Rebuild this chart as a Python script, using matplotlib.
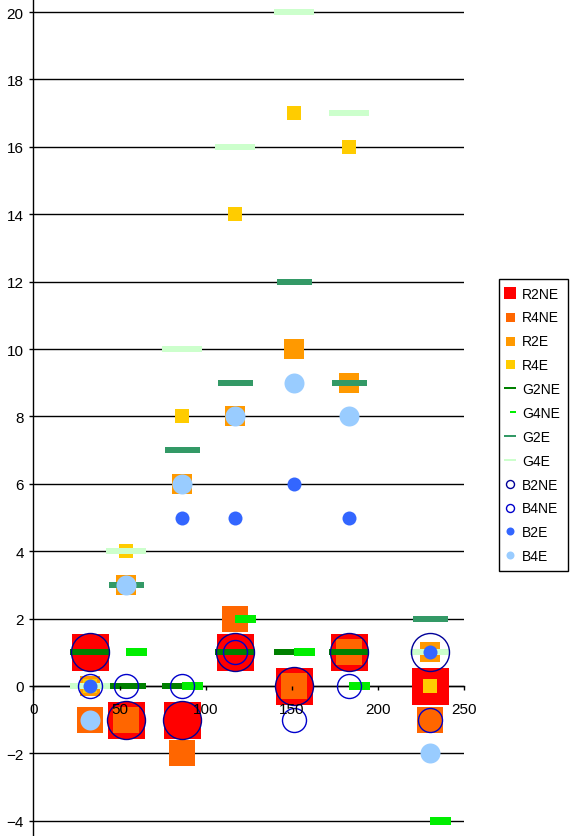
import numpy as np
from matplotlib import pyplot as plt
from matplotlib.path import Path
from matplotlib.lines import Line2D

plt.rcParams['font.family'] = ['Liberation Sans', 'DejaVu Sans']

nan = np.nan
x_vals = [33, 54, 86, 117, 151, 183, 230]

r2ne = [1, -1, -1, 1, 0, 1, 0]
r4ne = [-1, -1, -2, 2, 0, 1, -1]
r2e = [0, 3, 6, 8, 10, 9, 1]
r4e = [0, 4, 8, 14, 17, 16, 0]
g2ne = [1, 0, 0, 1, 1, 1, nan]
g4ne = [nan, 1, 0, 2, 1, 0, -4]
g2e = [0, 3, 7, 9, 12, 9, 2]
g4e = [0, 4, 10, 16, 20, 17, 1]
b2ne = [1, -1, -1, 1, 0, 1, 1]
b4ne = [0, 0, 0, 1, -1, 0, -1]
b2e = [0, 3, 5, 5, 6, 5, 1]
b4e = [-1, 3, 6, 8, 9, 8, -2]

y_ticks = list(range(-4, 21, 2))
x_ticks = [0, 50, 100, 150, 200, 250]


def bar_marker(half_height, right_only=False):
    left = 0 if right_only else -1
    verts = [(left, -half_height), (1, -half_height), (1, half_height), (left, half_height), (left, -half_height)]
    return Path(verts, closed=True)


long_bar = bar_marker(0.175)
teal_bar = bar_marker(0.17)
pale_bar = bar_marker(0.16)
short_bar = bar_marker(0.167, right_only=True)

px = 0.72  # points per pixel at dpi 100

# label, values, marker, size (px), colour, filled, legend size (px)
series = [
    ('R2NE', r2ne, 's', 37, '#FF0000', True, 12),
    ('R4NE', r4ne, 's', 26, '#FF6600', True, 9),
    ('R2E', r2e, 's', 20, '#FF9900', True, 9),
    ('R4E', r4e, 's', 14, '#FFCC00', True, 9),
    ('G2NE', g2ne, long_bar, 40, '#008000', True, 12),
    ('G4NE', g4ne, short_bar, 42, '#00EE00', True, 11),
    ('G2E', g2e, teal_bar, 35, '#339966', True, 12),
    ('G4E', g4e, pale_bar, 40, '#CCFFCC', True, 12),
    ('B2NE', b2ne, 'o', 38, '#000099', False, 8),
    ('B4NE', b4ne, 'o', 24, '#0000CC', False, 8),
    ('B2E', b2e, 'o', 14, '#3366FF', True, 8),
    ('B4E', b4e, 'o', 20, '#99CCFF', True, 8),
]

fig = plt.figure(figsize=(5.7, 8.37), dpi=100)
ax = fig.add_axes([33.4 / 570, 0, 430.8 / 570, 1])
ax.set_xlim(0, 250)
ax.set_ylim(-(837 - 687) / 33.7, 20 + 13 / 33.7)

for y in y_ticks:
    ax.axhline(y, color='black', linewidth=1.0, zorder=0.5)

handles = []
for label, values, marker, size, color, filled, legend_size in series:
    if filled:
        style = dict(markerfacecolor=color, markeredgewidth=0)
    else:
        style = dict(markerfacecolor='none', markeredgecolor=color, markeredgewidth=1.0)
    ax.plot(x_vals, values, linestyle='None', marker=marker, markersize=size * px, zorder=2, **style)
    handles.append(Line2D([], [], linestyle='None', marker=marker, markersize=legend_size * px, label=label, **style))

ax.set_axisbelow(False)
ax.spines['top'].set_visible(False)
ax.spines['right'].set_visible(False)
ax.spines['bottom'].set_position(('data', 0))
ax.spines['bottom'].set_zorder(0.6)
ax.spines['left'].set_zorder(0.6)
ax.spines['left'].set_linewidth(1.0)
ax.spines['bottom'].set_linewidth(1.0)

ax.set_yticks(y_ticks)
ax.set_xticks(x_ticks)
ax.tick_params(axis='both', direction='out', length=3, width=1, labelsize=11, colors='black')
ax.tick_params(axis='x', pad=8.5)
ax.tick_params(axis='y', pad=4)

legend = fig.legend(handles=handles, loc='upper left', bbox_to_anchor=(499 / 570, 1 - 280 / 837),
                    bbox_transform=fig.transFigure, fontsize=10, frameon=True, fancybox=False,
                    edgecolor='black', framealpha=1, labelspacing=0.71, handlelength=0.5,
                    handletextpad=0.6, borderpad=0.55, borderaxespad=0)
legend.get_frame().set_linewidth(1.0)

fig.savefig('out.png', dpi=100)
